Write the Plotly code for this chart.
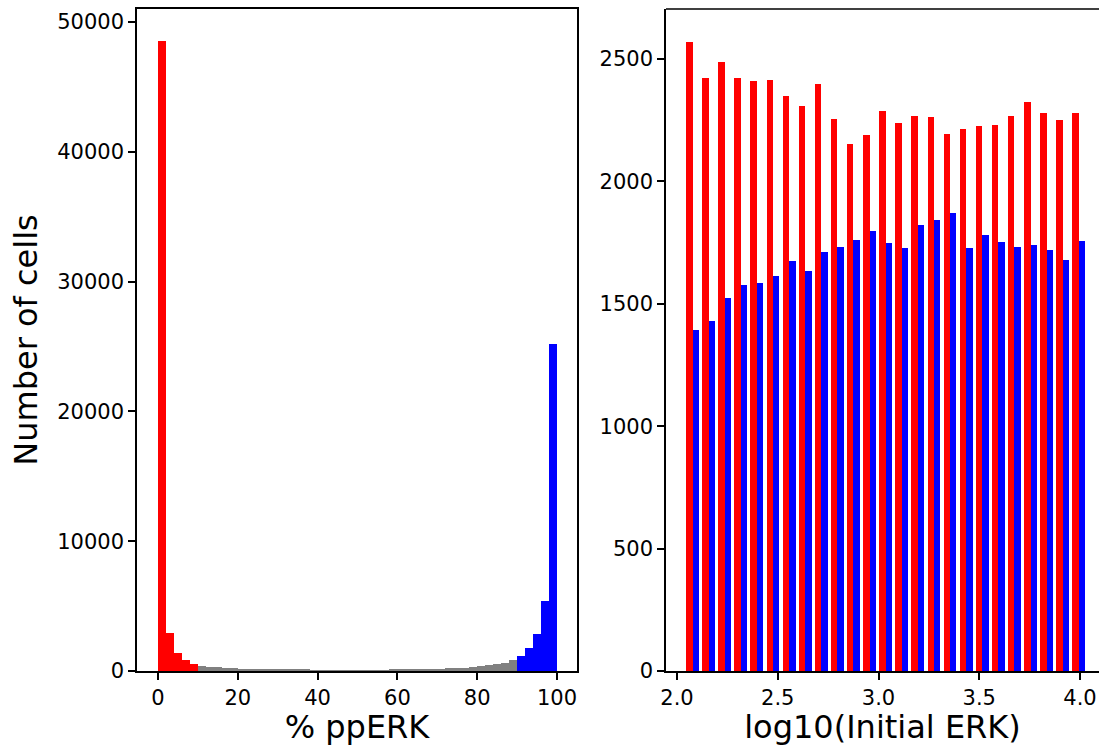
import numpy as np
import plotly.graph_objects as go

# ---------------- data ----------------
# Left panel: histogram of % ppERK, bins of width 2 from 0 to 100
pperk_bin_edges = list(range(0, 102, 2))
pperk_counts = [
    48550, 2955, 1413, 848, 565,                      # 0-10 (red)
    410, 335, 285, 235, 195, 165, 145, 125, 110, 100,  # 10-30
    95, 110, 105, 85, 75, 70, 65, 60, 60, 60,          # 30-50
    60, 65, 70, 75, 85, 95, 110, 125, 140, 160,        # 50-70
    180, 205, 235, 270, 310, 360, 430, 515, 620, 830,  # 70-90
    1156, 1760, 2850, 5396, 25210,                     # 90-100 (blue)
]
low_thr = 10
high_thr = 90

# Right panel: histogram of log10(Initial ERK), 25 bins
erk_min, erk_max, erk_nbins = 2.037, 4.034, 25
red_counts = [2571, 2423, 2488, 2423, 2410, 2412, 2348, 2306, 2398, 2253,
              2151, 2189, 2288, 2238, 2268, 2264, 2193, 2213, 2227, 2230,
              2266, 2323, 2279, 2251, 2281]
blue_counts = [1391, 1430, 1522, 1575, 1583, 1613, 1673, 1635, 1713, 1730,
               1760, 1796, 1749, 1726, 1823, 1841, 1872, 1726, 1779, 1753,
               1730, 1740, 1719, 1679, 1758]

left_xticks = [0, 20, 40, 60, 80, 100]
left_yticks = [0, 10000, 20000, 30000, 40000, 50000]
right_xticks = [2.0, 2.5, 3.0, 3.5, 4.0]
right_yticks = [0, 500, 1000, 1500, 2000, 2500]

# ---------------- figure ----------------
RED, BLUE, GRAY = "#ff0000", "#0000ff", "#808080"
FONT = "DejaVu Sans"

pe = np.array(pperk_bin_edges, dtype=float)
pc = (pe[:-1] + pe[1:]) / 2
pw = np.diff(pe)
pcolors = [RED if e < low_thr else (BLUE if e >= high_thr else GRAY) for e in pe[:-1]]

edges = np.linspace(erk_min, erk_max, erk_nbins + 1)
bw = edges[1] - edges[0]
centers = (edges[:-1] + edges[1:]) / 2

fig = go.Figure()
fig.add_trace(go.Bar(x=pc, y=pperk_counts, width=pw, marker=dict(color=pcolors, line=dict(width=0)),
                     xaxis="x", yaxis="y", showlegend=False))
fig.add_trace(go.Bar(x=centers, y=red_counts, width=[0.4 * bw] * erk_nbins, offset=[-0.4 * bw] * erk_nbins,
                     marker=dict(color=RED, line=dict(width=0)), xaxis="x2", yaxis="y2", showlegend=False))
fig.add_trace(go.Bar(x=centers, y=blue_counts, width=[0.4 * bw] * erk_nbins, offset=[0.0] * erk_nbins,
                     marker=dict(color=BLUE, line=dict(width=0)), xaxis="x2", yaxis="y2", showlegend=False))

axis_common = dict(showgrid=False, zeroline=False, showline=True, linecolor="black", linewidth=1.6,
                   ticks="outside", ticklen=7, tickwidth=1.6, tickcolor="black",
                   tickfont=dict(family=FONT, size=21, color="black"))

W, H = 1099, 746
ml, mr, mt, mb = 137, 0, 9, 75
pw_px = W - ml - mr
d1 = [0, (577 - ml) / pw_px]
d2 = [(666 - ml) / pw_px, 1]

fig.update_layout(
    width=W, height=H,
    margin=dict(l=ml, r=mr, t=mt, b=mb),
    paper_bgcolor="white", plot_bgcolor="white",
    bargap=0,
    xaxis=dict(domain=d1, range=[-5.25, 105], tickvals=left_xticks, mirror=True, anchor="y",
               title=dict(text="% ppERK", font=dict(family=FONT, size=32, color="black"), standoff=9),
               **axis_common),
    yaxis=dict(domain=[0, 1], range=[0, 51010], tickvals=left_yticks, tickformat="d", mirror=True, anchor="x",
               title=dict(text="Number of cells", font=dict(family=FONT, size=32, color="black"), standoff=10),
               **axis_common),
    xaxis2=dict(domain=d2, range=[1.9454, 4.0943], tickvals=right_xticks, tickformat=".1f", mirror=False, anchor="y2",
                title=dict(text="log10(Initial ERK)", font=dict(family=FONT, size=32, color="black"), standoff=9),
                **axis_common),
    yaxis2=dict(domain=[0, 1], range=[0, 2704], tickvals=right_yticks, tickformat="d", mirror=False, anchor="x2",
                **axis_common),
    shapes=[dict(type="line", xref="paper", yref="paper", x0=d2[0], x1=1.0, y0=1, y1=1,
                 line=dict(color="black", width=1.6))],
)

fig.write_html("out.html", config={"displayModeBar": False},
               post_script="document.body.style.margin='0';document.body.style.overflow='hidden';")
